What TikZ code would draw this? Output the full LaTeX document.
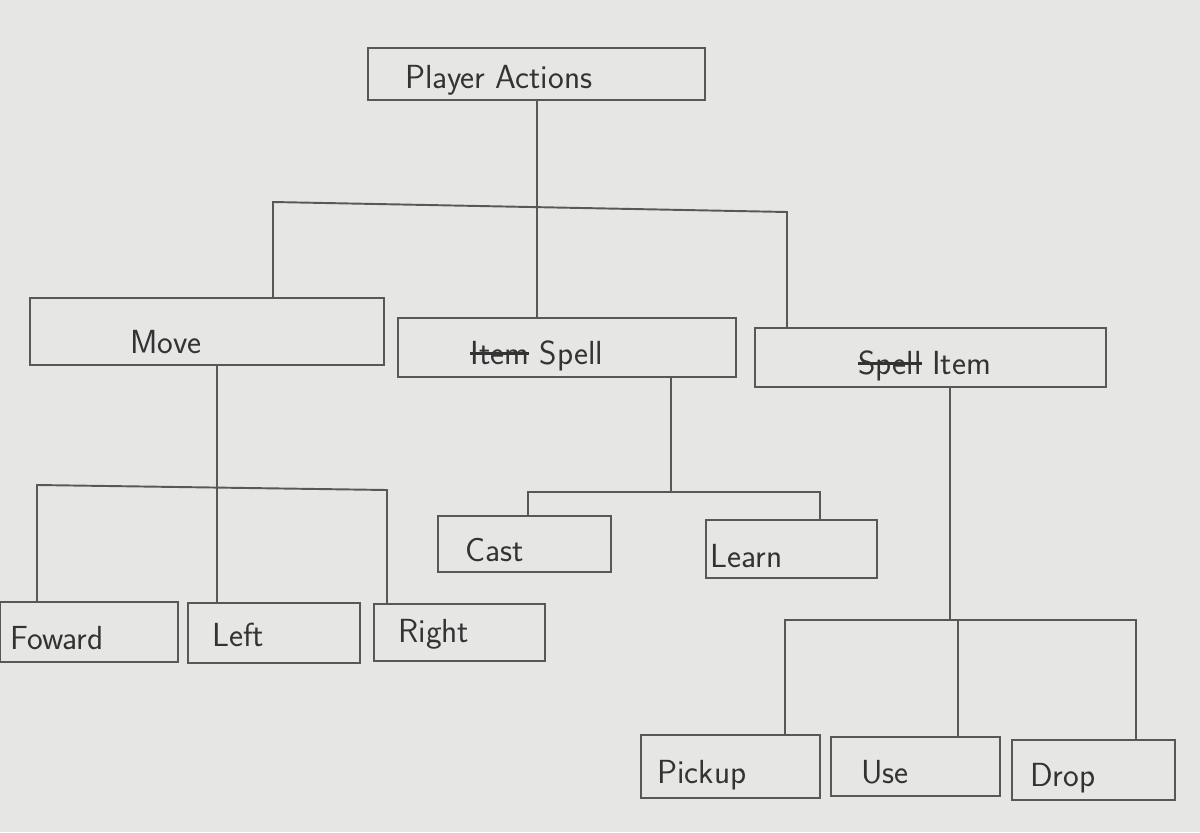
\documentclass[tikz,border=0pt]{standalone}
\usepackage{tikz}
\usetikzlibrary{positioning,calc,fit}

\definecolor{paper}{RGB}{230,231,229}
\definecolor{pencil}{RGB}{88,88,88}
\newcommand{\strikeout}[1]{\setbox0\hbox{#1}\rlap{\raisebox{0.3em}{\rule{\wd0}{0.07em}}}\box0\relax}

\begin{document}
\begin{tikzpicture}[
    x=0.02cm, y=-0.02cm,
    box/.style={draw=pencil, line width=1.1pt, inner sep=0pt},
    lbl/.style={anchor=west, inner sep=0pt, text=black!80, font=\sffamily\fontsize{19}{22}\selectfont},
    wire/.style={draw=pencil, line width=1.1pt}
]
\fill[paper] (0,0) rectangle (1200,832);
\useasboundingbox (0,0) rectangle (1200,832);

% boxes
\node[box, fit={(368,48) (705,100)}] (pa) {};
\node[box, fit={(30,298) (384,365)}] (move) {};
\node[box, fit={(398,318) (736,377)}] (spell) {};
\node[box, fit={(755,328) (1106,387)}] (item) {};
\node[box, fit={(0,602) (178,662)}] (fwd) {};
\node[box, fit={(188,603) (360,663)}] (left) {};
\node[box, fit={(374,604) (545,661)}] (right) {};
\node[box, fit={(438,516) (611,572)}] (cast) {};
\node[box, fit={(706,520) (877,578)}] (learn) {};
\node[box, fit={(641,735) (820,798)}] (pickup) {};
\node[box, fit={(831,737) (1000,796)}] (use) {};
\node[box, fit={(1012,740) (1175,800)}] (drop) {};

% labels
\node[lbl] (pa-t) at (405,80) {Player Actions};
\node[lbl] (move-t) at (130,342) {Move};
\node[lbl] (spell-t) at (470,356) {\strikeout{Item} Spell};
\node[lbl] (item-t) at (858,366) {\strikeout{Spell} Item};
\node[lbl] (fwd-t) at (10,638) {Foward};
\node[lbl] (left-t) at (212,635) {Left};
\node[lbl] (right-t) at (398,634) {Right};
\node[lbl] (cast-t) at (465,550) {Cast};
\node[lbl] (learn-t) at (710,556) {Learn};
\node[lbl] (pickup-t) at (657,775) {Pickup};
\node[lbl] (use-t) at (861,772) {Use};
\node[lbl] (drop-t) at (1030,778) {Drop};

% junctions
\coordinate (j1l) at (273,202);
\coordinate (j1m) at (537,207);
\coordinate (j1r) at (787,212);
\coordinate (j2) at (217,0);
\coordinate (j2l) at (37,485);
\coordinate (j2r) at (387,490);
\coordinate (j3m) at (671,492);
\coordinate (j3l) at (528,492);
\coordinate (j3r) at (820,492);
\coordinate (j4m) at (950,620);
\coordinate (j4l) at (785,620);
\coordinate (j4c) at (958,620);
\coordinate (j4r) at (1136,620);

% connectors
\draw[wire] (pa.south -| j1m) -- (spell.north -| j1m);
\draw[wire] (move.north -| j1l) -- (j1l) -- (j1r) -- (item.north -| j1r);
\draw[wire] (move.south -| j2) -- (left.north -| j2);
\draw[wire] (fwd.north -| j2l) -- (j2l) -- (j2r) -- (right.north -| j2r);
\draw[wire] (spell.south -| j3m) -- (j3m);
\draw[wire] (cast.north -| j3l) -- (j3l) -- (j3r) -- (learn.north -| j3r);
\draw[wire] (item.south -| j4m) -- (j4m);
\draw[wire] (pickup.north -| j4l) -- (j4l) -- (j4r) -- (drop.north -| j4r);
\draw[wire] (j4c) -- (use.north -| j4c);
\end{tikzpicture}
\end{document}
